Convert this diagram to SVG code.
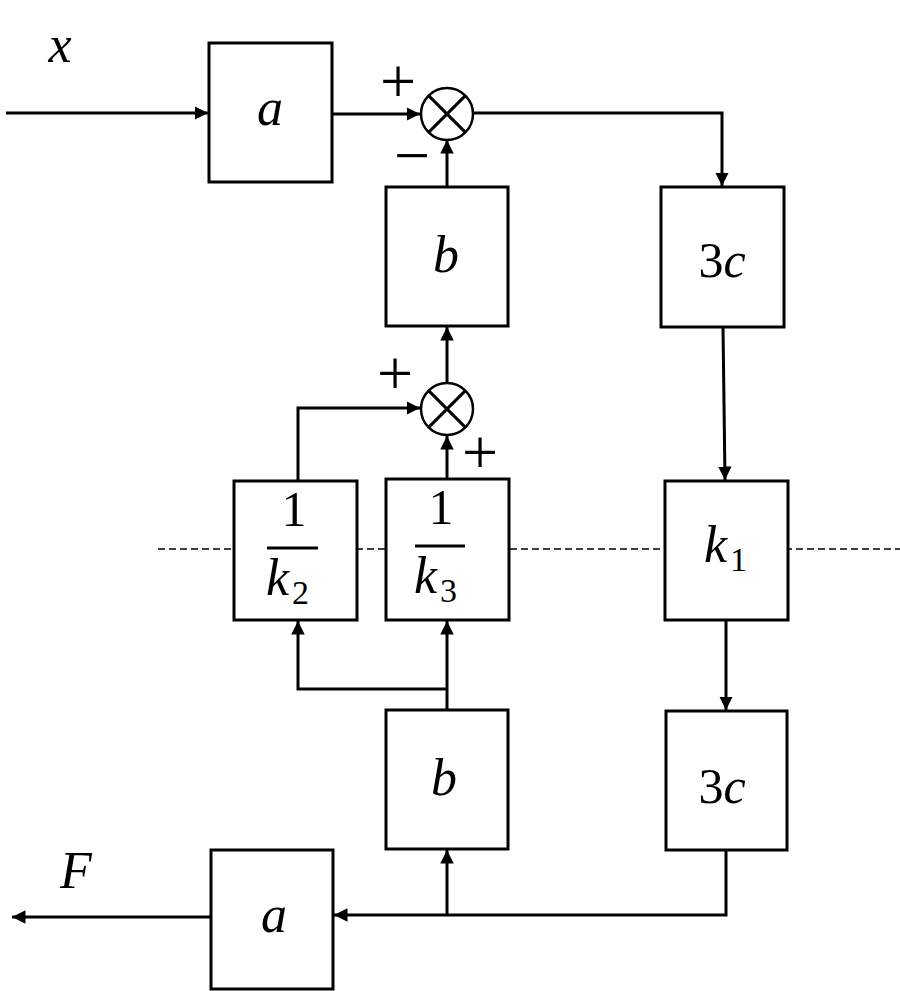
<svg xmlns="http://www.w3.org/2000/svg" width="900" height="991" viewBox="0 0 900 991">
<style>
.box{fill:#fff;stroke:#000;stroke-width:3}
.ln{fill:none;stroke:#000;stroke-width:3}
.sum{fill:#fff;stroke:#000;stroke-width:2.5}
.dash{stroke:#000;stroke-width:1.4;stroke-dasharray:7,4}
.t{font-family:"Liberation Serif","DejaVu Serif",serif;font-style:italic;font-size:52px;fill:#000}
.n{font-family:"Liberation Serif","DejaVu Serif",serif;font-size:50px;fill:#000}
.s{font-family:"Liberation Serif","DejaVu Serif",serif;font-size:34px;fill:#000}
.sg{font-family:"Liberation Serif","DejaVu Serif",serif;font-size:64px;fill:#000}
</style>
<defs>
<marker id="ah" viewBox="0 0 10 10" refX="10" refY="5" markerWidth="4.5" markerHeight="4.5" orient="auto" markerUnits="strokeWidth">
<path d="M0,0 L10,5 L0,10 z" fill="#000"/>
</marker>
</defs>
<line class="dash" x1="158" y1="549" x2="900" y2="549"/>
<g id="connectors">
<line class="ln" x1="6" y1="113" x2="208" y2="113" marker-end="url(#ah)"/>
<line class="ln" x1="332" y1="114" x2="420" y2="114" marker-end="url(#ah)"/>
<polyline class="ln" points="473,113 722,113 722,186" marker-end="url(#ah)"/>
<line class="ln" x1="447" y1="187" x2="447" y2="140" marker-end="url(#ah)"/>
<line class="ln" x1="447" y1="383" x2="447" y2="327" marker-end="url(#ah)"/>
<polyline class="ln" points="298,481 298,408 420,408" marker-end="url(#ah)"/>
<line class="ln" x1="447" y1="479" x2="447" y2="436" marker-end="url(#ah)"/>
<line class="ln" x1="723" y1="327" x2="725" y2="480" marker-end="url(#ah)"/>
<line class="ln" x1="726" y1="620" x2="726" y2="710" marker-end="url(#ah)"/>
<line class="ln" x1="447" y1="710" x2="447" y2="621" marker-end="url(#ah)"/>
<polyline class="ln" points="447,689 298,689 298,621" marker-end="url(#ah)"/>
<polyline class="ln" points="726,850 726,915 334,915" marker-end="url(#ah)"/>
<line class="ln" x1="447" y1="915" x2="447" y2="850" marker-end="url(#ah)"/>
<line class="ln" x1="211" y1="917" x2="12" y2="917" marker-end="url(#ah)"/>
</g>
<g id="sum1">
<circle class="sum" cx="447" cy="114" r="26"/>
<path class="ln" stroke-width="2.5" d="M428.6,95.6 L465.4,132.4 M465.4,95.6 L428.6,132.4"/>
<text class="sg" x="398" y="103" text-anchor="middle">+</text>
<text class="sg" x="412" y="177" text-anchor="middle">−</text>
</g>
<g id="sum2">
<circle class="sum" cx="447" cy="409" r="26"/>
<path class="ln" stroke-width="2.5" d="M428.6,390.6 L465.4,427.4 M465.4,390.6 L428.6,427.4"/>
<text class="sg" x="395" y="395" text-anchor="middle">+</text>
<text class="sg" x="480" y="474" text-anchor="middle">+</text>
</g>
<g id="lbl-x"><text class="t" x="60" y="62" text-anchor="middle">x</text></g>
<g id="lbl-F"><text class="t" x="76" y="888" text-anchor="middle">F</text></g>
<g id="a1"><rect class="box" x="209" y="43" width="123" height="139"/><text class="t" x="270" y="125" text-anchor="middle">a</text></g>
<g id="b1"><rect class="box" x="386" y="187" width="122" height="139"/><text class="t" x="446" y="272" text-anchor="middle">b</text></g>
<g id="c1"><rect class="box" x="661" y="187" width="123" height="140"/><text class="n" x="722" y="277" text-anchor="middle">3<tspan font-style="italic">c</tspan></text></g>
<g id="k2"><rect class="box" x="234" y="481" width="123" height="139"/><text class="n" x="294" y="526" text-anchor="middle">1</text><line class="ln" x1="267" y1="548" x2="318" y2="548"/><text class="t" x="266" y="595">k<tspan class="s" font-style="normal" dx="3" dy="9">2</tspan></text></g>
<g id="k3"><rect class="box" x="386" y="479" width="123" height="141"/><text class="n" x="441" y="524" text-anchor="middle">1</text><line class="ln" x1="415" y1="546" x2="465" y2="546"/><text class="t" x="414" y="593">k<tspan class="s" font-style="normal" dx="3" dy="9">3</tspan></text></g>
<g id="k1"><rect class="box" x="665" y="481" width="123" height="139"/><text class="t" x="704" y="562">k<tspan class="s" font-style="normal" dx="3" dy="9">1</tspan></text></g>
<g id="b2"><rect class="box" x="386" y="710" width="122" height="139"/><text class="t" x="444" y="795" text-anchor="middle">b</text></g>
<g id="c2"><rect class="box" x="666" y="711" width="121" height="139"/><text class="n" x="722" y="803" text-anchor="middle">3<tspan font-style="italic">c</tspan></text></g>
<g id="a2"><rect class="box" x="211" y="850" width="122" height="139"/><text class="t" x="274" y="932" text-anchor="middle">a</text></g>
</svg>
